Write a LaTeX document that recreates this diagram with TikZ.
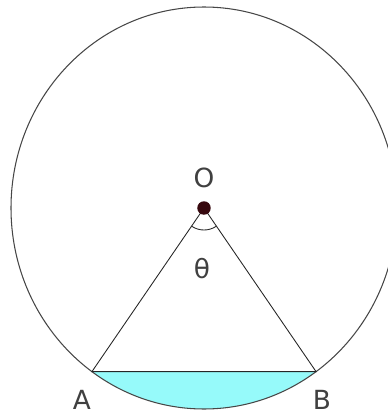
\documentclass[tikz,border=0pt]{standalone}
\usepackage{fontspec}
\setmainfont{DejaVu Sans}
\usepackage{xcolor}
\usepackage{tikz}
\usetikzlibrary{positioning, calc}

\definecolor{segcyan}{RGB}{150,250,250}
\definecolor{dotred}{RGB}{55,8,14}
\definecolor{rimgray}{RGB}{70,70,70}

\begin{document}
\begin{tikzpicture}[
  x=0.02cm, y=0.02cm,
  lbl/.style={font=\fontsize{15}{15}\selectfont, text=black!75, inner sep=0pt},
  rim/.style={draw=rimgray, line width=0.6pt},
  seg/.style={line width=0.5pt, draw=black!85},
  dot/.style={circle, fill=dotred, minimum size=0.27cm, inner sep=0pt}
]
\useasboundingbox (0,0) rectangle (387,414);

%% ── CENTRE and chord end points ──────────────────────────────────────
\coordinate (ctr) at (204,206);
\coordinate (A) at ($(ctr)+(234.5:193 and 201)$);
\coordinate (B) at ($(ctr)+(305.5:193 and 201)$);

%% ── SEGMENT under the chord ──────────────────────────────────────────
\fill[segcyan] (A) arc[start angle=234.5, end angle=305.5,
                       x radius=193, y radius=201] -- cycle;

%% ── CIRCLE ───────────────────────────────────────────────────────────
\draw[rim] (ctr) ellipse[x radius=193, y radius=201];

%% ── RADII, chord and angle mark ──────────────────────────────────────
\draw[seg] (ctr) -- (A) -- (B) -- cycle;
\draw[seg] ($(ctr)+(236:22)$) arc[start angle=236, end angle=304, radius=22];
\node[dot] (o) at (ctr) {};

%% ── LABELS ───────────────────────────────────────────────────────────
\node[lbl] (lO) at (204,236) {O};
\node[lbl] (lT) at (202,145) {θ};
\node[lbl] (lA) at (82,14)   {A};
\node[lbl] (lB) at (322,14)  {B};

\end{tikzpicture}
\end{document}
